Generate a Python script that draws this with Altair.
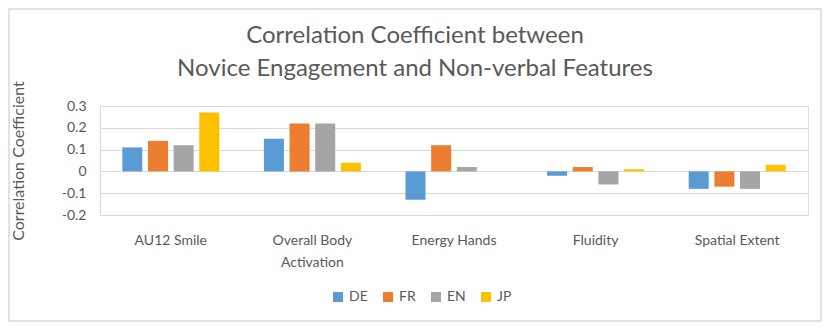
import altair as alt
import pandas as pd

categories = ["AU12 Smile", "Overall Body Activation", "Energy Hands", "Fluidity", "Spatial Extent"]
languages = ["DE", "FR", "EN", "JP"]
de_values = [0.11, 0.15, -0.13, -0.02, -0.08]
fr_values = [0.14, 0.22, 0.12, 0.02, -0.07]
en_values = [0.12, 0.22, 0.02, -0.06, -0.08]
jp_values = [0.27, 0.04, 0.00, 0.01, 0.03]
colors = ["#5B9BD5", "#ED7D31", "#A5A5A5", "#FFC000"]
title_lines = ["Correlation Coefficient between", "Novice Engagement and Non-verbal Features"]

rows = []
for lang, vals in zip(languages, [de_values, fr_values, en_values, jp_values]):
    for c, v in zip(categories, vals):
        rows.append({"Feature": c, "Language": lang, "Value": v})
df = pd.DataFrame(rows)

FONT = "Lato"
GRAY = "#595959"

bars = alt.Chart(df).mark_bar().encode(
    x=alt.X("Feature:N", sort=categories,
            scale=alt.Scale(paddingInner=0.315, paddingOuter=0.1575),
            axis=alt.Axis(title=None, domain=False, ticks=False, labelAngle=0,
                          labelFont=FONT, labelFontSize=14, labelColor=GRAY,
                          labelPadding=18, labelLineHeight=22,
                          labelExpr="datum.label == 'Overall Body Activation' ? ['Overall Body', 'Activation'] : datum.label")),
    xOffset=alt.XOffset("Language:N", sort=languages,
                        scale=alt.Scale(paddingInner=0.22, paddingOuter=0)),
    y=alt.Y("Value:Q",
            scale=alt.Scale(domain=[-0.2, 0.3], nice=False),
            axis=alt.Axis(title="Correlation Coefficient", values=[-0.2, -0.1, 0, 0.1, 0.2, 0.3],
                          domain=False, ticks=False, grid=True, gridColor="#D9D9D9", gridWidth=1,
                          labelFont=FONT, labelFontSize=14, labelColor=GRAY, labelPadding=14,
                          labelExpr="round(datum.value*10)/10 + ''",
                          titleFont=FONT, titleFontSize=16, titleColor=GRAY, titleFontWeight="normal",
                          titlePadding=35)),
    color=alt.Color("Language:N", sort=languages,
                    scale=alt.Scale(domain=languages, range=colors),
                    legend=alt.Legend(title=None, orient="none", direction="horizontal",
                                      legendX=231, legendY=184,
                                      symbolType="square", symbolSize=100, symbolStrokeWidth=0,
                                      labelFont=FONT, labelFontSize=14, labelColor=GRAY,
                                      columnPadding=13, labelOffset=4)),
)

title1 = alt.Chart(pd.DataFrame({"t": [title_lines[0]]})).mark_text(
    font=FONT, fontSize=24, color=GRAY, align="center", baseline="middle"
).encode(text="t:N", x=alt.value(315), y=alt.value(-70))

title2 = alt.Chart(pd.DataFrame({"t": [title_lines[1]]})).mark_text(
    font=FONT, fontSize=24, color=GRAY, align="center", baseline="middle"
).encode(text="t:N", x=alt.value(315), y=alt.value(-37))

border = alt.Chart(pd.DataFrame({"a": [0]})).mark_rect(
    fill=None, stroke="#D9D9D9", strokeWidth=1.5
).encode(
    x=alt.value(-91), x2=alt.value(721), y=alt.value(-97), y2=alt.value(215)
)

chart = alt.layer(bars, title1, title2, border).properties(
    width=708, height=109,
    padding={"left": 92, "top": 98, "right": 14, "bottom": 107},
    autosize=alt.AutoSizeParams(type="none"),
).configure_view(stroke=None).configure(background="white")

chart.save("out.html", embed_options={"renderer": "svg", "actions": False})
